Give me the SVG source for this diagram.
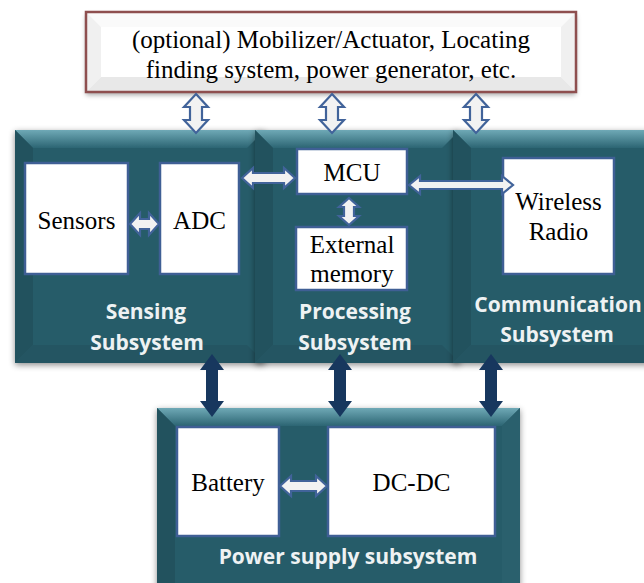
<svg xmlns="http://www.w3.org/2000/svg" width="644" height="583" viewBox="0 0 644 583">
<defs>
<linearGradient id="tb" x1="0" y1="0" x2="0" y2="1">
<stop offset="0" stop-color="#6FA9B6"/>
<stop offset="1" stop-color="#2C6573"/>
</linearGradient>
<filter id="sh" x="-10%" y="-10%" width="130%" height="130%">
<feDropShadow dx="0" dy="2" stdDeviation="3" flood-color="#000" flood-opacity="0.45"/>
</filter>
<filter id="sh2" x="-10%" y="-10%" width="130%" height="130%">
<feDropShadow dx="0" dy="3" stdDeviation="2.5" flood-color="#000" flood-opacity="0.35"/>
</filter>
</defs>
<style>
.main{fill:#275C69}
.bl{fill:#22525E}
.br{fill:#2A606D}
.bb{fill:#245562}
.bt{fill:url(#tb)}
.box{fill:#FFFFFF;stroke:#3F5F95;stroke-width:2.5}
.st{font-family:"Liberation Serif","Times New Roman",serif;font-size:25px;fill:#000;text-anchor:middle}
.lab{font-family:"Open Sans","DejaVu Sans",sans-serif;font-weight:bold;font-size:21px;fill:#EEF2F3;text-anchor:middle}
.oa{fill:#F2F2F2;stroke:#41639A;stroke-width:2.2;stroke-linejoin:miter}
.da{fill:#17375E}
</style>
<rect width="644" height="583" fill="#FFFFFF"/>

<g id="optional">
<g filter="url(#sh2)">
<rect x="86" y="12" width="490" height="80" fill="#FFFFFF"/>
</g>
<polygon points="86,12 576,12 561,27 101,27" fill="#FAFAFA"/>
<polygon points="86,12 101,27 101,77 86,92" fill="#F0F0F0"/>
<polygon points="576,12 576,92 561,77 561,27" fill="#F0F0F0"/>
<polygon points="86,92 101,77 561,77 576,92" fill="#E8E8E8"/>
<rect x="101" y="27" width="460" height="50" fill="#FFFFFF"/>
<rect x="86" y="12" width="490" height="80" fill="none" stroke="#8E4F4F" stroke-width="2.5"/>
<text class="st" x="331" y="48" font-size="25.5">(optional) Mobilizer/Actuator, Locating</text>
<text class="st" x="331" y="78" font-size="25.5">finding system, power generator, etc.</text>
</g>

<g id="sensing">
<g filter="url(#sh)">
<rect class="main" x="15" y="130" width="250" height="233"/>
</g>
<polygon class="bt" points="15,130 265,130 247,148 33,148"/>
<polygon class="bl" points="15,130 33,148 33,345 15,363"/>
<polygon class="bb" points="15,363 33,345 247,345 265,363"/>
<rect class="box" x="25" y="163" width="103" height="111"/>
<text class="st" x="76.5" y="229">Sensors</text>
<rect class="box" x="160" y="163" width="79" height="111"/>
<text class="st" x="199.5" y="229">ADC</text>
<text class="lab" x="146" y="319">Sensing</text>
<text class="lab" x="147" y="350">Subsystem</text>
</g>

<g id="processing">
<g filter="url(#sh)">
<rect class="main" x="255" y="130" width="205" height="233"/>
</g>
<polygon class="bt" points="255,130 460,130 442,148 273,148"/>
<polygon class="bl" points="255,130 273,148 273,345 255,363"/>
<polygon class="bb" points="255,363 273,345 442,345 460,363"/>
<rect class="box" x="297" y="149" width="110" height="45"/>
<text class="st" x="352" y="181">MCU</text>
<rect class="box" x="296" y="227" width="111" height="63"/>
<text class="st" x="352" y="253">External</text>
<text class="st" x="352" y="282">memory</text>
<text class="lab" x="355" y="319">Processing</text>
<text class="lab" x="355" y="350">Subsystem</text>
</g>

<g id="communication">
<g filter="url(#sh)">
<rect class="main" x="453" y="130" width="215" height="233"/>
</g>
<polygon class="bt" points="453,130 668,130 650,148 471,148"/>
<polygon class="bl" points="453,130 471,148 471,345 453,363"/>
<polygon class="bb" points="453,363 471,345 650,345 668,363"/>
<rect class="box" x="503" y="158" width="111" height="116"/>
<text class="st" x="558.5" y="210">Wireless</text>
<text class="st" x="558.5" y="240">Radio</text>
<text class="lab" x="558" y="312">Communication</text>
<text class="lab" x="557" y="342">Subsystem</text>
</g>

<g id="power">
<g filter="url(#sh)">
<rect class="main" x="157" y="408" width="363" height="190"/>
</g>
<polygon class="bt" points="157,408 520,408 502,426 175,426"/>
<polygon class="bl" points="157,408 175,426 175,598 157,598"/>
<polygon class="br" points="520,408 520,598 502,598 502,426"/>
<rect class="box" x="177" y="427" width="102" height="109"/>
<text class="st" x="228" y="491">Battery</text>
<rect class="box" x="328" y="427" width="167" height="109"/>
<text class="st" x="411.5" y="491">DC-DC</text>
<text class="lab" x="348" y="564">Power supply subsystem</text>
</g>

<g id="connectors">
<polygon class="oa" points="196,94 208,107 202,107 202,120 208,120 196,133 184,120 190,120 190,107 184,107"/>
<polygon class="oa" points="332,94 344,107 338,107 338,120 344,120 332,133 320,120 326,120 326,107 320,107"/>
<polygon class="oa" points="476,94 488,107 482,107 482,120 488,120 476,133 464,120 470,120 470,107 464,107"/>
<polygon class="oa" points="130,224 140,213 140,219 149,219 149,213 159,224 149,235 149,229 140,229 140,235"/>
<polygon class="oa" points="242,178 253,168 253,173 284,173 284,168 295,178 284,188 284,183 253,183 253,188"/>
<polygon class="oa" points="409,185 420,176 420,181 502,181 502,176 513,185 502,194 502,189 420,189 420,194"/>
<polygon class="oa" points="280,486 291,476 291,481 316,481 316,476 327,486 316,496 316,491 291,491 291,496"/>
<polygon class="oa" points="349,198 359,207 354,207 354,216 359,216 349,225 339,216 344,216 344,207 339,207"/>
<polygon class="da" points="212,354 224,370 218,370 218,401 224,401 212,417 200,401 206,401 206,370 200,370"/>
<polygon class="da" points="340,354 352,370 346,370 346,401 352,401 340,417 328,401 334,401 334,370 328,370"/>
<polygon class="da" points="491,354 503,370 497,370 497,401 503,401 491,417 479,401 485,401 485,370 479,370"/>
</g>
</svg>
